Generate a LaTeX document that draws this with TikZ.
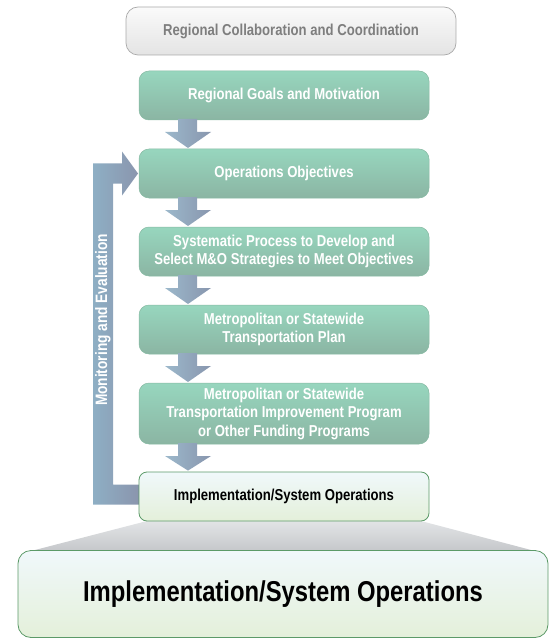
\documentclass[tikz,border=0pt]{standalone}
\usepackage{fontspec}
\setmainfont{Liberation Sans}[FakeStretch=0.83]
\usetikzlibrary{calc}
\definecolor{grT}{HTML}{97D6BE}
\definecolor{grB}{HTML}{8BB5A3}
\definecolor{grE}{HTML}{86B9A2}
\definecolor{arL}{HTML}{9CB8CB}
\definecolor{arR}{HTML}{8896AE}
\definecolor{fbL}{HTML}{8EAFC4}
\definecolor{fbR}{HTML}{8A92AB}
\definecolor{grayT}{HTML}{FAFAFA}
\definecolor{grayB}{HTML}{E4E4E4}
\definecolor{grayE}{HTML}{A9A9A9}
\definecolor{grayTx}{HTML}{7E7E7E}
\definecolor{imT}{HTML}{F0F8FB}
\definecolor{imB}{HTML}{E4F0DA}
\definecolor{imE}{HTML}{5C9A68}
\definecolor{trT}{HTML}{E2E4E6}
\definecolor{trB}{HTML}{C6C8CB}
\tikzset{
  medtext/.style={font=\fontsize{15.8}{18.5}\selectfont\bfseries},
  greenbox/.style={draw=grE, line width=0.5pt, top color=grT, bottom color=grB,
    rounded corners=10pt, minimum width=290pt, inner sep=0pt, outer sep=0pt,
    align=center, text=white, medtext},
  graybox/.style={draw=grayE, line width=0.7pt, top color=grayT, bottom color=grayB,
    rounded corners=12pt, minimum width=330pt, minimum height=48pt, inner sep=0pt,
    align=center, text=grayTx, medtext},
  implbox/.style={draw=imE, line width=0.8pt, top color=imT, bottom color=imB,
    inner sep=0pt, align=center, text=black},
  arrowfill/.style={left color=arL, right color=arR, draw=none},
  fbfill/.style={left color=fbL, right color=fbR, draw=none},
  trapfill/.style={top color=trT, bottom color=trB, draw=none}
}
\newcommand\dnarrow[2]{%
  \path[arrowfill] let \p1=(#1.south west), \p2=(#2.north west) in
    (\x1+39pt,\y1+1pt) -- (\x1+58pt,\y1+1pt) -- (\x1+58pt,\y1-12pt) --
    (\x1+72pt,\y1-12pt) -- (\x1+49pt,\y2+1pt) -- (\x1+26pt,\y1-12pt) --
    (\x1+39pt,\y1-12pt) -- cycle;}
\begin{document}
\begin{tikzpicture}[x=1pt,y=-1pt]
\useasboundingbox (0,0) rectangle (555,639);

% nodes
\node[graybox] (coord) at (291,31) {Regional Collaboration and Coordination};
\node[greenbox, minimum height=49pt] (goals) at (284,95.5) {Regional Goals and Motivation};
\node[greenbox, minimum height=49pt] (ops) at (284,173.5) {Operations Objectives};
\node[greenbox, minimum height=49pt] (sys) at (284,251.5) {Systematic Process to Develop and\\Select M\&O Strategies to Meet Objectives};
\node[greenbox, minimum height=49pt] (plan) at (284,329.5) {Metropolitan or Statewide\\Transportation Plan};
\node[greenbox, minimum height=61pt] (tip) at (284,413.5) {Metropolitan or Statewide\\Transportation Improvement Program\\or Other Funding Programs};

% trapezoid (behind the implementation boxes)
\path[trapfill] let \p1=(284,521), \p2=(283,550) in
  (147,521) -- (421,521) -- (533,550.5) -- (33,550.5) -- cycle;

% feedback arrow
\path[fbfill] let \p1=(ops.west), \p2=(284,496.5) in
  (\x1-46pt,\y2-8pt) -- (\x1-46pt,\y1+10pt) -- (\x1-17pt,\y1+10pt) --
  (\x1-17pt,\y1+22pt) -- (\x1-1pt,\y1) -- (\x1-17pt,\y1-22pt) --
  (\x1-17pt,\y1-10pt) -- (\x1-26pt,\y1-10pt) -- (\x1-26pt,\y2+12pt) --
  (\x1+5pt,\y2+12pt) -- (\x1+5pt,\y2-8pt) -- cycle;
\node[text=white, rotate=90, font=\fontsize{16.5}{18}\selectfont\bfseries] (fbtext) at (103,320) {Monitoring and Evaluation};

\node[implbox, rounded corners=8pt, minimum width=290pt, minimum height=49pt,
  font=\fontsize{15.8}{18}\selectfont\bfseries] (impl) at (284,496.5) {Implementation/System Operations};
\node[implbox, rounded corners=13pt, minimum width=530pt, minimum height=87pt,
  font=\fontsize{28.7}{32}\selectfont\bfseries] (big) at (283,594) {Implementation/System Operations};

% down arrows
\dnarrow{goals}{ops}
\dnarrow{ops}{sys}
\dnarrow{sys}{plan}
\dnarrow{plan}{tip}
\dnarrow{tip}{impl}
\end{tikzpicture}
\end{document}
